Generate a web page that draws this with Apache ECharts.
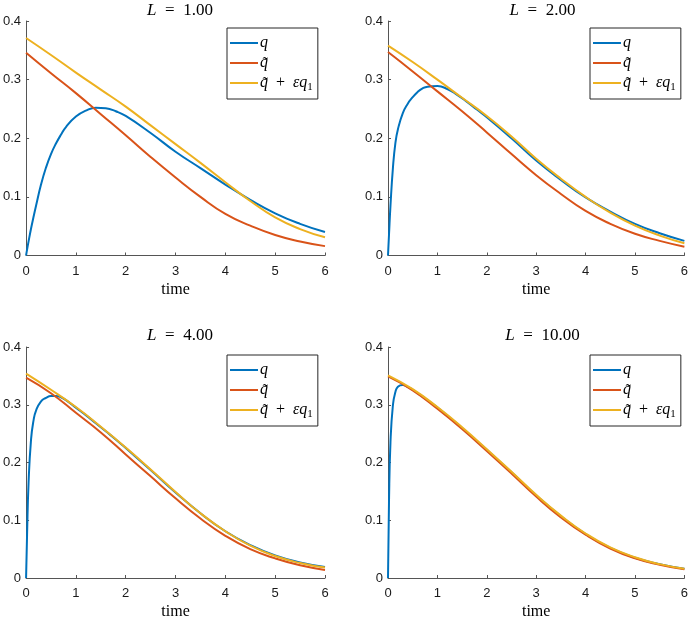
<!DOCTYPE html>
<html>
<head>
<meta charset="utf-8">
<script src="https://cdn.jsdelivr.net/npm/echarts@6/dist/echarts.min.js"></script>
<style>
html,body{margin:0;padding:0;background:#fff;}
#chart{width:691px;height:621px;}
</style>
</head>
<body>
<div id="chart"></div>
<script>
// ---- data ----
const timeQ = [0, 0.02, 0.05, 0.1, 0.15, 0.2, 0.3, 0.4, 0.5, 0.6, 0.7, 0.8, 1.0, 1.2, 1.4, 1.6, 1.8, 2.0, 2.5, 3.0, 3.5, 4.0, 4.5, 5.0, 5.5, 6.0];
const timeQt = [0, 0.5, 1, 1.5, 2, 2.5, 3, 3.5, 4, 4.5, 5, 5.5, 6];

const panelL = ['1.00', '2.00', '4.00', '10.00'];

const q_L1  = [0, 0.010, 0.024, 0.046, 0.066, 0.085, 0.121, 0.150, 0.173, 0.191, 0.206, 0.219, 0.237, 0.247, 0.252, 0.251, 0.246, 0.238, 0.209, 0.177, 0.149, 0.121, 0.095, 0.072, 0.054, 0.040];
const qt_L1 = [0.346, 0.311, 0.277, 0.241, 0.205, 0.168, 0.133, 0.100, 0.071, 0.051, 0.035, 0.024, 0.016];
const qe_L1 = [0.371, 0.342, 0.312, 0.283, 0.254, 0.222, 0.190, 0.158, 0.125, 0.093, 0.065, 0.045, 0.031];

const q_L2  = [0, 0.035, 0.085, 0.150, 0.192, 0.215, 0.243, 0.259, 0.270, 0.279, 0.285, 0.288, 0.289, 0.284, 0.274, 0.262, 0.249, 0.236, 0.200, 0.162, 0.129, 0.099, 0.075, 0.054, 0.038, 0.025];
const qt_L2 = [0.347, 0.314, 0.280, 0.246, 0.210, 0.173, 0.137, 0.105, 0.076, 0.054, 0.037, 0.025, 0.015];
const qe_L2 = [0.358, 0.330, 0.300, 0.269, 0.238, 0.203, 0.165, 0.131, 0.100, 0.073, 0.051, 0.034, 0.021];

const q_L4  = [0, 0.075, 0.165, 0.240, 0.273, 0.290, 0.306, 0.312, 0.315, 0.315, 0.313, 0.308, 0.295, 0.282, 0.268, 0.254, 0.240, 0.225, 0.187, 0.148, 0.112, 0.081, 0.057, 0.039, 0.027, 0.019];
const qt_L4 = [0.347, 0.320, 0.286, 0.252, 0.214, 0.176, 0.138, 0.103, 0.073, 0.050, 0.034, 0.022, 0.014];
const qe_L4 = [0.354, 0.326, 0.296, 0.262, 0.226, 0.188, 0.149, 0.112, 0.081, 0.056, 0.038, 0.026, 0.018];

const q_L10  = [0, 0.130, 0.235, 0.300, 0.322, 0.331, 0.334, 0.331, 0.326, 0.320, 0.314, 0.308, 0.295, 0.281, 0.267, 0.252, 0.237, 0.222, 0.183, 0.143, 0.107, 0.076, 0.052, 0.035, 0.024, 0.016];
const qt_L10 = [0.349, 0.325, 0.293, 0.258, 0.220, 0.181, 0.141, 0.105, 0.075, 0.051, 0.034, 0.023, 0.015];
const qe_L10 = [0.351, 0.327, 0.296, 0.261, 0.223, 0.184, 0.144, 0.108, 0.077, 0.053, 0.036, 0.024, 0.016];

const panels = [
  { q: q_L1, qt: qt_L1, qe: qe_L1 },
  { q: q_L2, qt: qt_L2, qe: qe_L2 },
  { q: q_L4, qt: qt_L4, qe: qe_L4 },
  { q: q_L10, qt: qt_L10, qe: qe_L10 }
];

// ---- layout / style ----
const colors = { q: '#0072BD', qt: '#D95319', qe: '#EDB120' };
const gridPos = [
  { left: 25, top: 21, width: 300, height: 234.5 },
  { left: 388, top: 21, width: 299, height: 234.5 },
  { left: 25, top: 347, width: 300, height: 235 },
  { left: 388, top: 347, width: 299, height: 235 }
];
const titleTop = [-3, 322];
const legendPos = [
  { left: 227, top: 28 }, { left: 590, top: 28 },
  { left: 227, top: 355 }, { left: 590, top: 355 }
];
const serif = 'Liberation Serif';
const sans = 'Liberation Sans';
const axisColor = '#555555';

const pair = (ts, vs) => ts.map((t, i) => [t, vs[i]]);

const grid = [], xAxis = [], yAxis = [], series = [], title = [], legend = [];
panels.forEach((p, k) => {
  grid.push(Object.assign({ containLabel: false }, gridPos[k]));
  xAxis.push({
    type: 'value', gridIndex: k, min: 0, max: 6, interval: 1,
    name: 'time', nameLocation: 'middle', nameGap: 26,
    nameTextStyle: { fontFamily: serif, fontSize: 16, color: '#000' },
    axisLine: { onZero: false, lineStyle: { color: axisColor, width: 1 } },
    axisTick: { inside: true, length: 3, lineStyle: { color: axisColor } },
    axisLabel: { fontFamily: sans, fontSize: 13, color: '#1a1a1a', margin: 9 },
    splitLine: { show: false }
  });
  yAxis.push({
    type: 'value', gridIndex: k, min: 0, max: 0.4, interval: 0.1,
    axisLine: { show: true, onZero: false, lineStyle: { color: axisColor, width: 1 } },
    axisTick: { show: true, inside: true, length: 3, lineStyle: { color: axisColor } },
    axisLabel: { fontFamily: sans, fontSize: 13, color: '#1a1a1a', margin: 5 },
    splitLine: { show: false }
  });
  const common = { type: 'line', xAxisIndex: k, yAxisIndex: k, showSymbol: false, symbol: 'none',
    smooth: 0.5, silent: true, animation: false };
  series.push(Object.assign({ name: 'q', data: pair(timeQ, p.q), lineStyle: { color: colors.q, width: 2 }, itemStyle: { color: colors.q } }, common));
  series.push(Object.assign({ name: 'qt', data: pair(timeQt, p.qt), lineStyle: { color: colors.qt, width: 2 }, itemStyle: { color: colors.qt } }, common));
  series.push(Object.assign({ name: 'qe', data: pair(timeQt, p.qe), lineStyle: { color: colors.qe, width: 2 }, itemStyle: { color: colors.qe } }, common));

  title.push({
    text: '{i|L}  =  ' + panelL[k],
    left: gridPos[k].left + gridPos[k].width / 2,
    textAlign: 'center',
    top: titleTop[Math.floor(k / 2)],
    textStyle: {
      fontFamily: serif, fontSize: 17, fontWeight: 'normal', color: '#000',
      rich: { i: { fontFamily: serif, fontStyle: 'italic', fontSize: 17, color: '#000' } }
    }
  });

  legend.push({
    data: ['q', 'qt', 'qe'],
    left: legendPos[k].left, top: legendPos[k].top,
    orient: 'vertical', selectedMode: false,
    icon: 'rect', itemWidth: 28, itemHeight: 2, itemGap: 0,
    backgroundColor: '#fff', borderColor: '#262626', borderWidth: 1,
    padding: [5, 5, 6, 3],
    formatter: function (n) {
      if (n === 'q') return '{i|q}';
      if (n === 'qt') return '{i|q\u0303}';
      return '{i|q\u0303}  +  {i|\u03b5q}{s|1}';
    },
    textStyle: {
      fontFamily: serif, fontSize: 16, color: '#000', lineHeight: 20, padding: [0, 0, 0, -3],
      rich: {
        i: { fontFamily: serif, fontStyle: 'italic', fontSize: 16, lineHeight: 20, color: '#000' },
        s: { fontFamily: serif, fontSize: 11, lineHeight: 20, color: '#000', padding: [8, 0, 0, 0] }
      }
    }
  });
});

const chart = echarts.init(document.getElementById('chart'), null, { renderer: 'canvas' });
chart.setOption({
  animation: false,
  backgroundColor: '#fff',
  title, grid, xAxis, yAxis, series, legend
});
</script>
</body>
</html>
